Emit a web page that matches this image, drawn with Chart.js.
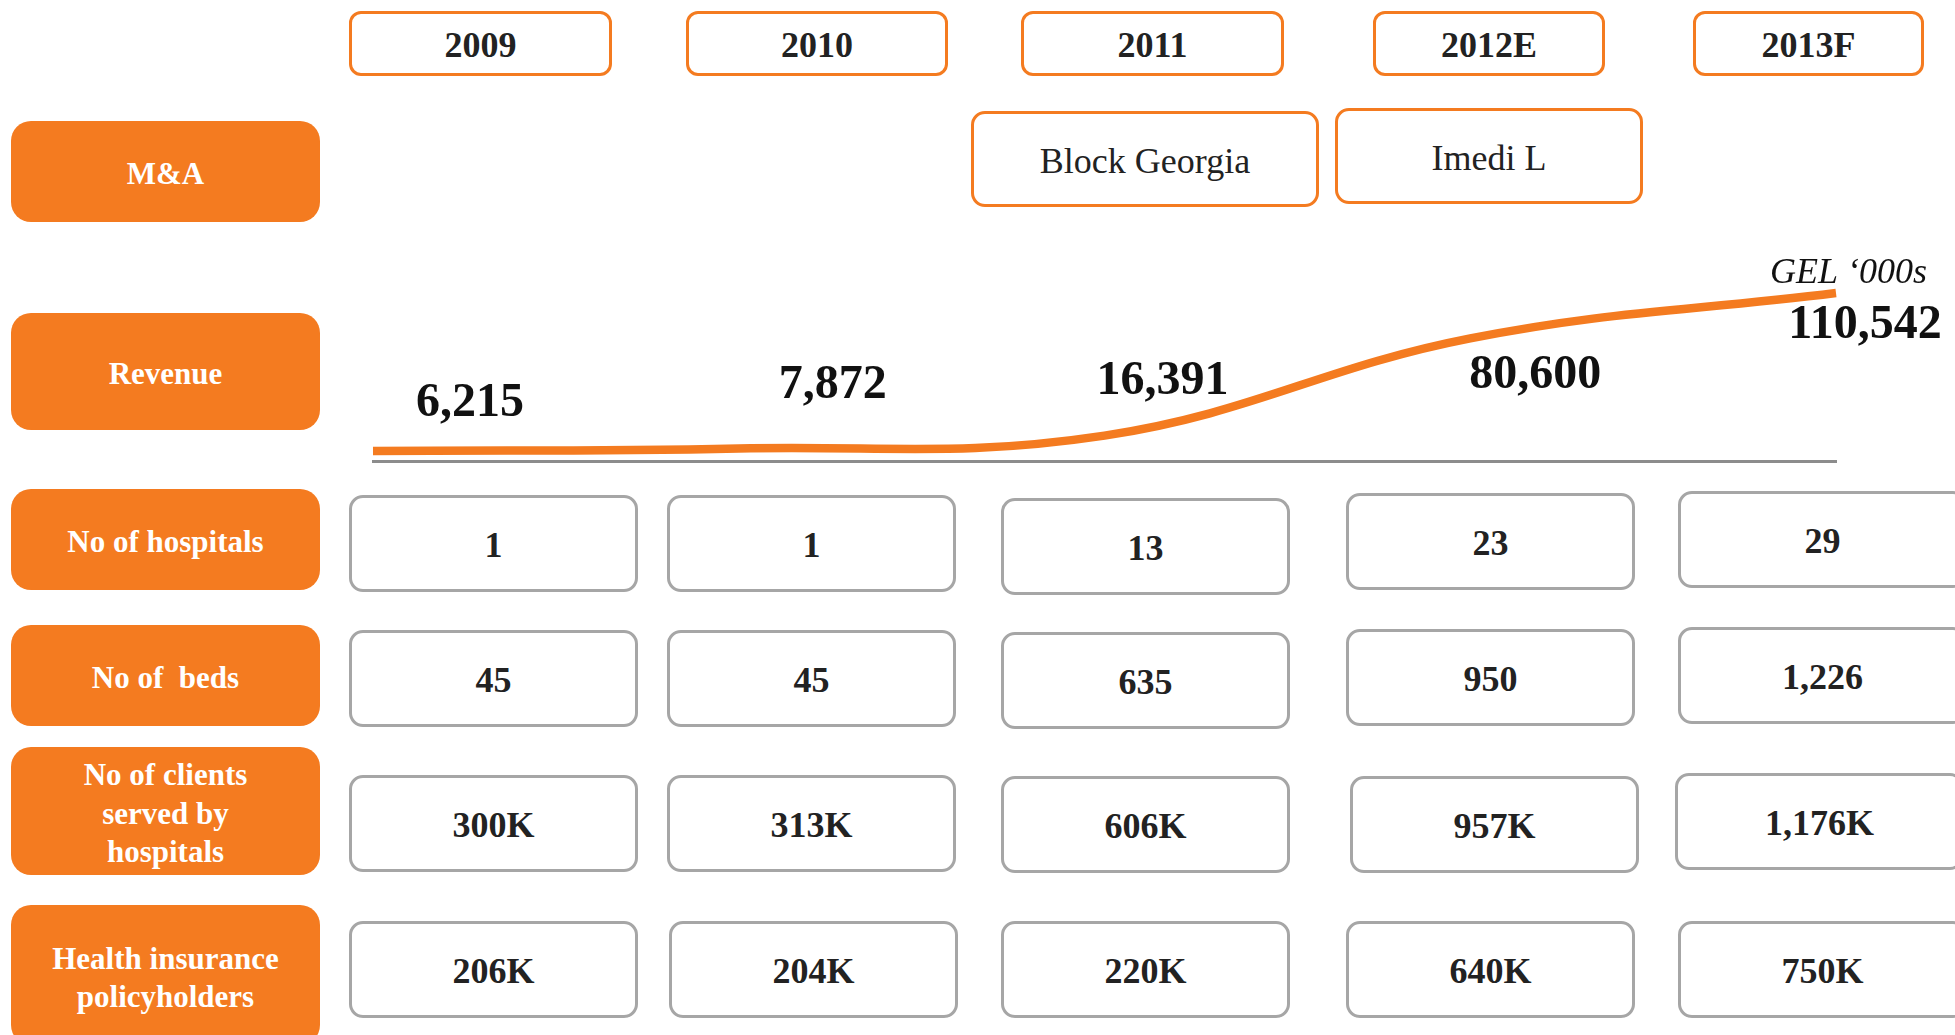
<!DOCTYPE html>
<html>
<head>
<meta charset="utf-8">
<script src="https://cdn.jsdelivr.net/npm/chart.js@4.4.1/dist/chart.umd.min.js"></script>
<style>
html,body{margin:0;padding:0;background:#fff;width:1955px;height:1035px;overflow:hidden;font-family:'Liberation Serif','Times New Roman',serif;}
#wrap{position:relative;width:1955px;height:1035px;overflow:hidden;}
.box{position:absolute;box-sizing:border-box;display:flex;align-items:center;justify-content:center;text-align:center;}
.lbl{background:#F47B20;color:#fff;font-weight:bold;font-size:31px;border-radius:20px;line-height:38.5px;white-space:pre;padding-top:6px;}
.yr{border:3px solid #F47B20;border-radius:12px;font-weight:bold;font-size:36px;color:#222;padding-top:3px;}
.ma{border:3px solid #F47B20;border-radius:14px;font-size:36px;color:#222;padding-top:4px;}
.cell{border:3px solid #A6A6A6;border-radius:14px;font-weight:bold;font-size:36px;color:#222;padding-top:3px;}
#chart{position:absolute;left:0;top:0;}
</style>
</head>
<body>
<div id="wrap">
<canvas id="chart" width="1955" height="1035"></canvas>
</div>
<script>
// ---- data ----
const years = ['2009', '2010', '2011', '2012E', '2013F'];
const revenue = [6215, 7872, 16391, 80600, 110542];
const revenueLabels = ['6,215', '7,872', '16,391', '80,600', '110,542'];
const revenueUnit = 'GEL \u2018000s';
const maDeals = ['', '', 'Block Georgia', 'Imedi L', ''];
const hospitals = ['1', '1', '13', '23', '29'];
const beds = ['45', '45', '635', '950', '1,226'];
const clients = ['300K', '313K', '606K', '957K', '1,176K'];
const policyholders = ['206K', '204K', '220K', '640K', '750K'];
const rowLabels = ['M&A', 'Revenue', 'No of hospitals', 'No of  beds', 'No of clients\nserved by\nhospitals', 'Health insurance\npolicyholders'];

// ---- layout (style only) ----
const wrap = document.getElementById('wrap');
function addBox(cls, x, y, w, h, text) {
  const d = document.createElement('div');
  d.className = 'box ' + cls;
  d.style.left = x + 'px'; d.style.top = y + 'px';
  d.style.width = w + 'px'; d.style.height = h + 'px';
  d.textContent = text;
  wrap.insertBefore(d, wrap.firstChild);
  return d;
}
const labelRects = [[121, 101], [313, 117], [489, 101], [625, 101], [747, 128], [905, 140]];
rowLabels.forEach((t, i) => addBox('lbl', 11, labelRects[i][0], 309, labelRects[i][1], t));

const yearLeft = [349, 686, 1021, 1373, 1693];
const yearRight = [612, 948, 1284, 1605, 1924];
years.forEach((y, i) => addBox('yr', yearLeft[i], 11, yearRight[i] - yearLeft[i], 65, y));

const maRects = [null, null, [971, 111, 348, 96], [1335, 108, 308, 96], null];
maDeals.forEach((t, i) => { if (t) { const r = maRects[i]; addBox('ma', r[0], r[1], r[2], r[3], t); } });

const cellLeft = [349, 667, 1001, 1346, 1678];
const cellW = 289, cellH = 97;
const rowTop = [495, 630, 775, 921];
const rowShift = [[0, 0, 3, -2, -4], [0, 0, 2, -1, -3], [0, 0, 1, 1, -2], [0, 0, 0, 0, 0]];
const cellRowShiftX = [[0, 0, 0, 0, 0], [0, 0, 0, 0, 0], [0, 0, 0, 4, -3], [0, 2, 0, 0, 0]];
[hospitals, beds, clients, policyholders].forEach((row, r) => {
  row.forEach((v, c) => addBox('cell', cellLeft[c] + cellRowShiftX[r][c], rowTop[r] + rowShift[r][c], cellW, cellH, v));
});

// ---- chart ----
const labelDx = [97, 94, 58, 65, 29];
const labelDy = [-35, -50, -42, 50, 45];
const labelPlugin = {
  id: 'revLabels',
  afterDatasetsDraw(chart) {
    const ctx = chart.ctx;
    const meta = chart.getDatasetMeta(0);
    ctx.save();
    ctx.fillStyle = '#111';
    ctx.font = 'bold 48px "Liberation Serif"';
    ctx.textAlign = 'center';
    ctx.textBaseline = 'alphabetic';
    revenueLabels.forEach((t, i) => {
      const p = meta.data[i];
      ctx.fillText(t, p.x + labelDx[i], p.y + labelDy[i]);
    });
    ctx.font = 'italic 36px "Liberation Serif"';
    ctx.textAlign = 'right';
    ctx.fillStyle = '#111';
    ctx.fillText(revenueUnit, chart.chartArea.right + 91, chart.chartArea.top - 10);
    ctx.restore();
  }
};

new Chart(document.getElementById('chart'), {
  type: 'line',
  data: {
    labels: years,
    datasets: [{
      data: revenue,
      borderColor: '#F47B20',
      borderWidth: 8.5,
      tension: 0.4,
      pointRadius: 0,
      fill: false,
      clip: false,
      borderCapStyle: 'butt'
    }]
  },
  options: {
    responsive: false,
    animation: false,
    layout: { padding: { left: 373, right: 119, top: 293, bottom: 566 } },
    plugins: { legend: { display: false }, tooltip: { enabled: false } },
    scales: {
      x: {
        type: 'category',
        offset: false,
        grid: { display: false },
        ticks: { display: false },
        border: { display: true, color: '#8C8C8C', width: 3 }
      },
      y: { display: false, min: -400, max: 110600 }
    }
  },
  plugins: [labelPlugin]
});
</script>
</body>
</html>
